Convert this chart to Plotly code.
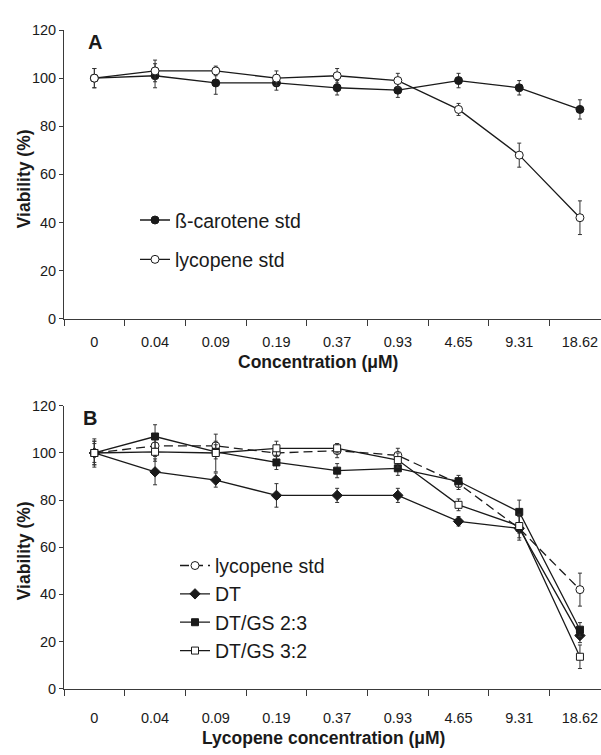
import plotly.graph_objects as go

concentrations = ["0", "0.04", "0.09", "0.19", "0.37", "0.93", "4.65", "9.31", "18.62"]

# Panel A
beta_carotene_std = [100, 101, 98, 98, 96, 95, 99, 96, 87]
beta_carotene_err = [4, 5, 4.7, 3, 3, 3, 3, 3, 4]
lycopene_std = [100, 103, 103, 100, 101, 99, 87, 68, 42]
lycopene_err = [4, 4.5, 2, 3, 3, 3, 2.5, 5, 7]

# Panel B
dt = [100, 92, 88.5, 82, 82, 82, 71, 68, 22.5]
dt_err = [6, 5.5, 3, 5, 3, 3, 2, 2, 3]
dt_gs_23 = [100, 107, 100.5, 96, 92.5, 93.5, 88, 75, 25]
dt_gs_23_err = [5, 5, 3, 3, 3, 3, 2.5, 5, 3]
dt_gs_32 = [100, 100.5, 100, 102, 102, 97, 78, 69, 13.5]
dt_gs_32_err = [5, 4, 8, 3, 2, 3, 2.5, 5, 5]

y_ticks = [0, 20, 40, 60, 80, 100, 120]

FONT = "Arial, Liberation Sans, sans-serif"
INK = "#1a1a1a"
AXC = "#3a3a3a"

fig = go.Figure()


def add(y, err, name, symbol, fill, size, xaxis, yaxis, legend, group, dash="solid"):
    fig.add_trace(go.Scatter(
        x=concentrations, y=y, name=name, mode="lines+markers",
        xaxis=xaxis, yaxis=yaxis, legend=legend, legendgroup=group,
        line=dict(color=INK, width=1.3, dash=dash),
        marker=dict(symbol=symbol, size=size, color=fill, line=dict(color=INK, width=1)),
        error_y=dict(type="data", array=err, visible=True, color="#333", thickness=1, width=2),
    ))


add(beta_carotene_std, beta_carotene_err, "ß-carotene std", "circle", INK, 8, "x", "y", "legend", "a1")
add(lycopene_std, lycopene_err, "lycopene std", "circle", "white", 8, "x", "y", "legend", "a2")

add(lycopene_std, lycopene_err, "lycopene std", "circle", "white", 8, "x2", "y2", "legend2", "b1", dash="9px,5px")
add(dt, dt_err, "DT", "diamond", INK, 8, "x2", "y2", "legend2", "b2")
add(dt_gs_23, dt_gs_23_err, "DT/GS 2:3", "square", INK, 7, "x2", "y2", "legend2", "b3")
add(dt_gs_32, dt_gs_32_err, "DT/GS 3:2", "square", "white", 7, "x2", "y2", "legend2", "b4")

W, H = 601, 755
x0 = 64 / W

xcommon = dict(
    type="category", range=[-0.5, 8.347], domain=[x0, 1.0],
    tickson="boundaries", ticks="outside", ticklen=6, tickcolor=AXC, tickwidth=1,
    showline=True, linecolor=AXC, linewidth=1, showgrid=False, zeroline=False,
    tickfont=dict(family=FONT, size=14.5, color=INK),
    fixedrange=True,
)
ycommon = dict(
    range=[0, 120], tickvals=y_ticks, ticks="outside", ticklen=4, tickcolor=AXC,
    showline=True, linecolor=AXC, linewidth=1, showgrid=False, zeroline=False,
    tickfont=dict(family=FONT, size=14.5, color=INK),
    fixedrange=True,
)

fig.update_layout(
    width=W, height=H, margin=dict(l=0, r=0, t=0, b=0),
    paper_bgcolor="white", plot_bgcolor="white",
    xaxis=dict(xcommon, anchor="y", ticklabelstandoff=10),
    yaxis=dict(ycommon, domain=[1 - 317.5 / H, 1 - 22.5 / H], anchor="x"),
    xaxis2=dict(xcommon, anchor="y2", ticklabelstandoff=16),
    yaxis2=dict(ycommon, domain=[1 - 695.3 / H, 1 - 406.5 / H], anchor="x2"),
    legend=dict(x=135 / W, y=1 - 197 / H, xanchor="left", yanchor="top",
                font=dict(family=FONT, size=19.5, color=INK), tracegroupgap=11,
                bgcolor="rgba(0,0,0,0)"),
    legend2=dict(x=175 / W, y=1 - 550 / H, xanchor="left", yanchor="top",
                 font=dict(family=FONT, size=19.5, color=INK), tracegroupgap=0,
                 bgcolor="rgba(0,0,0,0)"),
    showlegend=True,
)

ann = []


def note(text, px, py, size, angle=0):
    ann.append(dict(text=text, x=px / W, y=1 - py / H, xref="paper", yref="paper",
                    xanchor="center", yanchor="middle", showarrow=False, textangle=angle,
                    font=dict(family=FONT, size=size, color=INK)))


note("<b>A</b>", 95, 35, 20)
note("<b>B</b>", 90, 419, 20)
note("<b>Concentration (μM)</b>", 318, 362, 17.5)
note("<b>Lycopene concentration (μM)</b>", 323, 746, 17.5)
note("<b>Viability (%)</b>", 24, 175, 17.5, -90)
note("<b>Viability (%)</b>", 24, 555, 17.5, -90)
fig.update_layout(annotations=ann)

fig.write_html("out.html")
